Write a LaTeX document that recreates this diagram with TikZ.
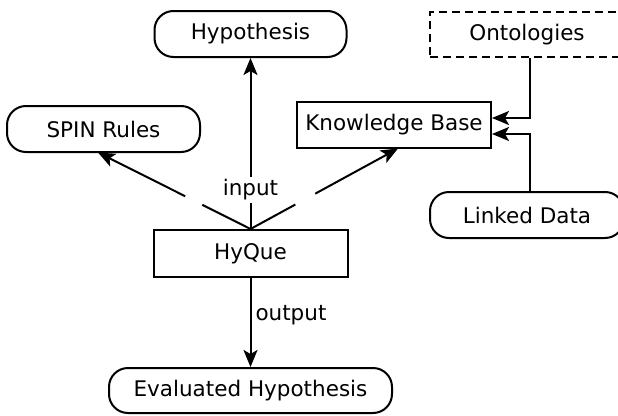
\documentclass[tikz,border=0pt]{standalone}
\usepackage{fontspec}
\setmainfont{DejaVu Sans}
\usetikzlibrary{arrows.meta,calc}
\tikzset{
  mytip/.tip={Stealth[length=17pt,width=14pt,inset=4pt]}
}
\begin{document}
\begin{tikzpicture}[x=1pt,y=-1pt,
  every node/.style={font=\fontsize{21.5}{25}\selectfont, inner sep=0pt},
  base/.style={draw, line width=2pt, minimum height=46pt},
  rbox/.style={base, rounded corners=19pt},
  sbox/.style={base},
  dbox/.style={base, dash pattern=on 8pt off 5pt},
  arr/.style={line width=2pt, -mytip},
  ln/.style={line width=2pt}]
\clip (0,0) rectangle (618,415);
\fill[white] (0,0) rectangle (618,415);
\node[rbox, minimum width=192pt] (hyp) at (250.5,34) {Hypothesis};
\node[rbox, minimum width=193pt] (sp) at (103.5,129) {SPIN Rules};
\node[sbox, minimum width=194pt] (kb) at (394,125) {Knowledge Base};
\node[dbox, minimum width=194pt, minimum height=45pt] (ont) at (527,34.5) {Ontologies};
\node[rbox, minimum width=194pt] (ld) at (527,215) {Linked Data};
\node[sbox, minimum width=194pt, minimum height=47pt] (hq) at (250.5,253.5) {HyQue};
\node[rbox, minimum width=283pt, minimum height=45pt] (eh) at (250.5,390.5) {Evaluated Hypothesis};
% input edges
\coordinate (spt) at (98,152.5);
\coordinate (kbt) at (398,148.5);
\draw[arr] (hq.north) -- (hyp.south);
\node[fill=white, inner xsep=2pt, inner ysep=3pt] (in) at (250.5,190) {input};
\draw[ln] (hq.north) -- ($(hq.north)!0.316!(spt)$);
\draw[arr] ($(hq.north)!0.428!(spt)$) -- (spt);
\draw[ln] (hq.north) -- ($(hq.north)!0.304!(kbt)$);
\draw[arr] ($(hq.north)!0.439!(kbt)$) -- (kbt);
% output
\draw[arr] (hq.south) -- node[right, pos=0.42, xshift=4pt] {output} (eh.north);
% knowledge sources
\coordinate (c1) at (530,118);
\coordinate (c2) at (530,134);
\draw[arr] (c1 |- ont.south) -- (c1) -- (c1 -| kb.east);
\draw[arr] (c2 |- ld.north) -- (c2) -- (c2 -| kb.east);
\end{tikzpicture}
\end{document}
